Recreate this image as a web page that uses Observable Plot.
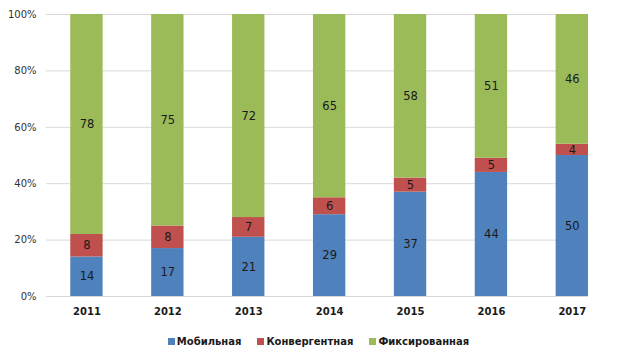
<!DOCTYPE html>
<html>
<head>
<meta charset="utf-8">
<script src="https://cdn.jsdelivr.net/npm/d3@7"></script>
<script src="https://cdn.jsdelivr.net/npm/@observablehq/plot@0.6"></script>
<style>
  body { margin: 0; background: #fff; font-family: "DejaVu Sans", Verdana, sans-serif; }
  #chart { width: 629px; }
  .legend { display: flex; justify-content: center; padding-left: 8px; padding-top: 6px; height: 27px; line-height: 14px; font-size: 10px; font-weight: bold; color: #1a1a1a; }
  .legend .item { display: flex; align-items: center; margin: 0 8px; }
  .legend .sw { width: 7px; height: 7px; margin-right: 2px; display: inline-block; }
</style>
</head>
<body>
<div id="chart"></div>
<script>
const years = ["2011", "2012", "2013", "2014", "2015", "2016", "2017"];
const mobile = [14, 17, 21, 29, 37, 44, 50];
const convergent = [8, 8, 7, 6, 5, 5, 4];
const fixed = [78, 75, 72, 65, 58, 51, 46];
const seriesNames = ["Мобильная", "Конвергентная", "Фиксированная"];
const seriesColors = ["#4F81BD", "#C0504D", "#9BBB59"];
const yTicks = [0, 20, 40, 60, 80, 100];

const seriesValues = [mobile, convergent, fixed];
const data = [];
years.forEach((year, i) => {
  seriesNames.forEach((s, j) => {
    data.push({year, series: s, value: seriesValues[j][i]});
  });
});

const chart = Plot.plot({
  width: 629,
  height: 322,
  marginLeft: 46,
  marginRight: 41,
  marginTop: 14,
  marginBottom: 26,
  style: {fontFamily: "'DejaVu Sans', Verdana, sans-serif", fontSize: "10px", color: "#333", background: "#fff"},
  x: {domain: years, paddingInner: 0.6, paddingOuter: 0.15, align: 1, round: false, label: null, tickSize: 0, tickPadding: 11},
  y: {domain: [0, 100], ticks: yTicks, tickFormat: d => d + "%", label: null, tickSize: 0, tickPadding: 10},
  color: {domain: seriesNames, range: seriesColors},
  marks: [
    Plot.ruleY(yTicks, {stroke: "#d9d9d9", strokeWidth: 1}),
    Plot.barY(data, Plot.stackY({x: "year", y: "value", z: "series", fill: "series", order: seriesNames})),
    Plot.text(data, Plot.stackY({x: "year", y: "value", z: "series", order: seriesNames, text: d => String(d.value), fill: "#1a1a1a", fontSize: 11.5}))
  ]
});

chart.querySelectorAll("g[aria-label='x-axis tick label'] text, g[aria-label='x-axis'] text").forEach(t => {
  t.setAttribute("font-weight", "bold");
  t.setAttribute("fill", "#1a1a1a");
});

const container = document.getElementById("chart");
container.appendChild(chart);

const legend = document.createElement("div");
legend.className = "legend";
seriesNames.forEach((name, i) => {
  const item = document.createElement("span");
  item.className = "item";
  const sw = document.createElement("span");
  sw.className = "sw";
  sw.style.background = seriesColors[i];
  item.appendChild(sw);
  item.appendChild(document.createTextNode(name));
  legend.appendChild(item);
});
container.appendChild(legend);
</script>
</body>
</html>
